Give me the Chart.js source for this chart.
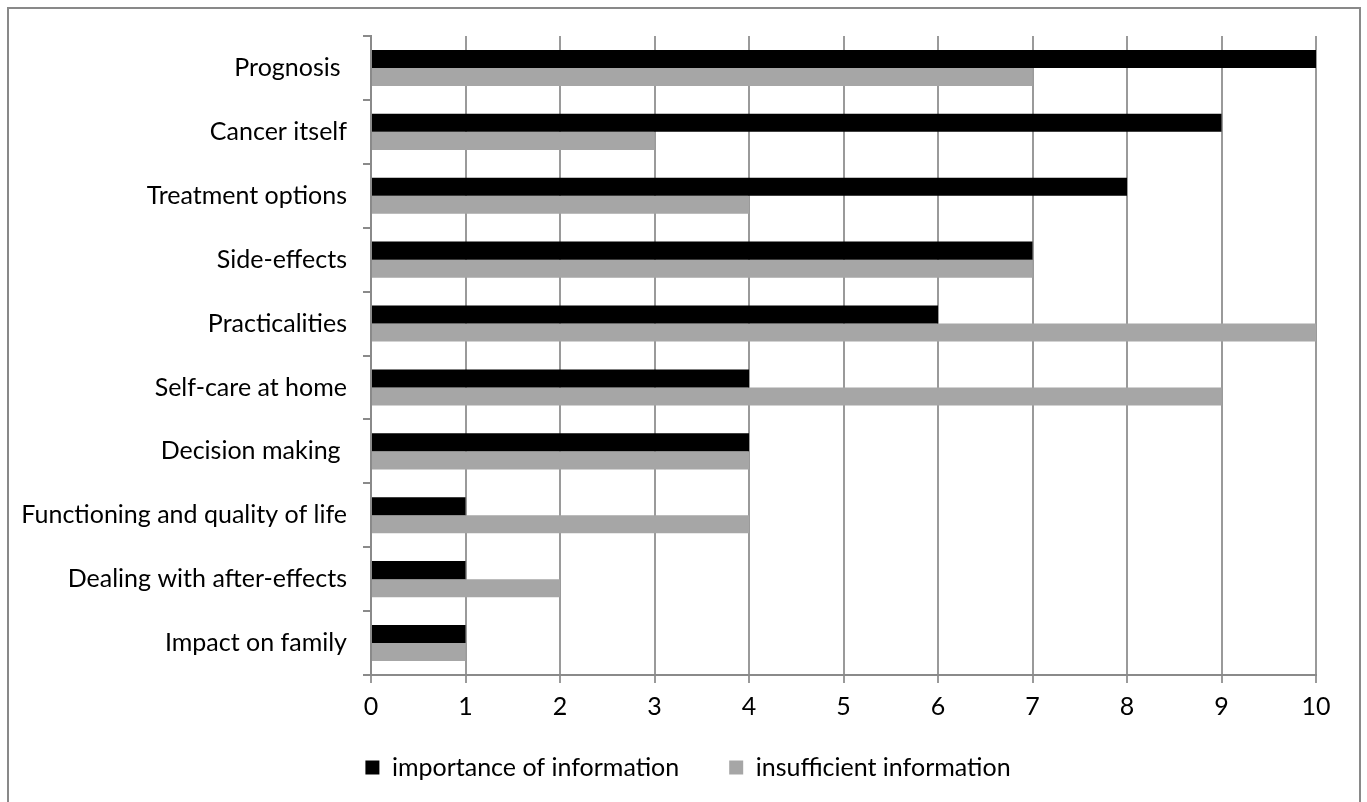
<!DOCTYPE html>
<html>
<head>
<meta charset="utf-8">
<script src="https://cdn.jsdelivr.net/npm/chart.js@4"></script>
<style>
  html, body { margin: 0; padding: 0; background: #fff; overflow: hidden; }
  #wrap { position: absolute; left: 0; top: 0; width: 1367px; height: 802px; }
  #frame { position: absolute; left: 7px; top: 7px; width: 1350px; height: 820px;
           border: 2px solid #898989; pointer-events: none; }
</style>
</head>
<body>
<div id="wrap"><canvas id="c" width="1367" height="802"></canvas></div>
<div id="frame"></div>
<script>
const categories = [
  "Prognosis ", "Cancer itself", "Treatment options", "Side-effects", "Practicalities",
  "Self-care at home", "Decision making ", "Functioning and quality of life",
  "Dealing with after-effects", "Impact on family"
];
const importanceOfInformation = [10, 9, 8, 7, 6, 4, 4, 1, 1, 1];
const insufficientInformation = [7, 3, 4, 7, 10, 9, 4, 4, 2, 1];
const xTicks = [0, 1, 2, 3, 4, 5, 6, 7, 8, 9, 10];

const FONT = "Lato, 'Open Sans', sans-serif";
Chart.defaults.font.family = FONT;
Chart.defaults.color = "#000";

const legendLayout = {
  id: "legendLayout",
  beforeLayout(chart) {
    const lg = chart.legend;
    if (lg && !lg._patched) {
      const origFit = lg.fit.bind(lg);
      lg.fit = function () { origFit(); this.height = 65; };
      lg._patched = true;
    }
  },
  afterLayout(chart) {
    const lg = chart.legend;
    if (lg) {
      lg.left += 30; lg.right += 30;
      lg.top = chart.chartArea.bottom + 30;
      lg.bottom = chart.height;
      lg.height = lg.bottom - lg.top;
    }
  }
};

new Chart(document.getElementById("c"), {
  type: "bar",
  data: {
    labels: categories,
    datasets: [
      { label: "importance of information", data: importanceOfInformation,
        backgroundColor: "#000000", barPercentage: 1.0, categoryPercentage: 0.565 },
      { label: "insufficient information", data: insufficientInformation,
        backgroundColor: "#A6A6A6", barPercentage: 1.0, categoryPercentage: 0.565 }
    ]
  },
  plugins: [legendLayout],
  options: {
    indexAxis: "y",
    responsive: false,
    animation: false,
    devicePixelRatio: 1,
    layout: { padding: { left: 0, right: 51, top: 36, bottom: 0 } },
    scales: {
      x: {
        min: 0, max: 10,
        afterBuildTicks: (s) => { s.ticks = xTicks.map(v => ({ value: v })); },
        afterFit: (s) => { s.height = 62; },
        grid: { color: "#9a9a9a", lineWidth: 2, tickLength: 8, drawTicks: true },
        border: { color: "#8a8a8a", width: 2 },
        ticks: { font: { size: 25 }, padding: 9, color: "#000" }
      },
      y: {
        afterFit: (s) => { s.width = 371; },
        grid: { drawOnChartArea: false, color: "#8a8a8a", lineWidth: 2, tickLength: 8 },
        border: { color: "#8a8a8a", width: 2 },
        ticks: { font: { size: 25 }, padding: 16, color: "#000" }
      }
    },
    plugins: {
      legend: {
        position: "bottom",
        labels: { font: { size: 25 }, boxWidth: 14, boxHeight: 14, padding: 50, color: "#000" }
      },
      tooltip: { enabled: false }
    }
  }
});
</script>
</body>
</html>
